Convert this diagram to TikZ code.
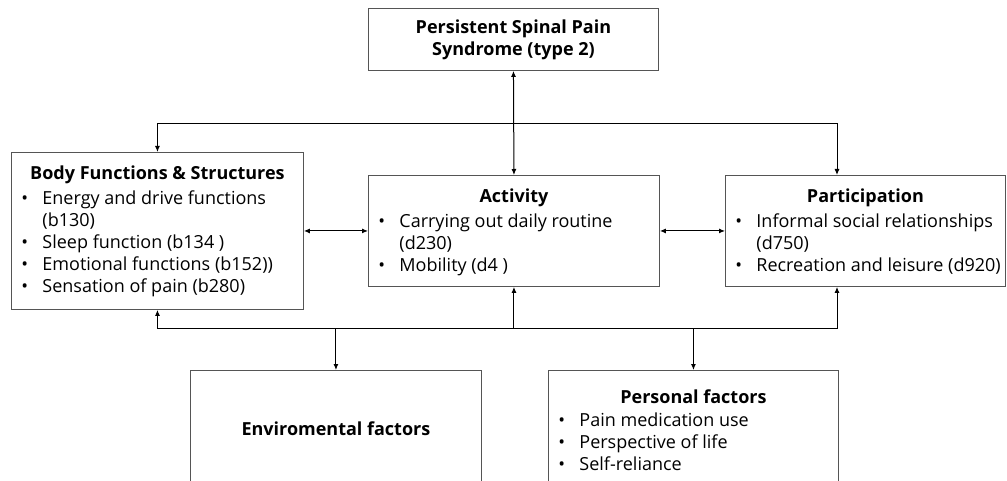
\documentclass[tikz,border=0pt]{standalone}
\usepackage{fontspec}
\setmainfont{Open Sans}
\usetikzlibrary{arrows.meta}
\definecolor{boxline}{RGB}{85,85,85}
\newcommand\bul{\makebox[21pt][l]{\textbullet}}
\newcommand\cont{\hspace*{21pt}}

\begin{document}
\begin{tikzpicture}[x=1pt, y=-1pt,
  icf/.style={draw=boxline, line width=0.9pt, inner sep=0pt, anchor=north west,
    font=\fontsize{18pt}{22pt}\selectfont},
  link/.style={line width=1pt, >={Latex[length=6pt,width=5pt]}}]
\useasboundingbox (0,0) rectangle (1007,481);
\clip (0,0) rectangle (1007,481);
% ICF boxes
\node[icf] (pain) at (368,8) {\parbox[c][62pt][c]{290pt}{\centering\bfseries
  Persistent Spinal Pain\\Syndrome (type 2)}};
\node[icf] (body) at (11,152) {\parbox[c][157pt][t]{292pt}{\vspace*{13pt}%
  \centering\textbf{Body Functions \& Structures}\par\vspace{3pt}\raggedright\leftskip=10pt
  \bul Energy and drive functions\\ \cont(b130)\\
  \bul Sleep function (b134 )\\
  \bul Emotional functions (b152))\\
  \bul Sensation of pain (b280)}};
\node[icf] (act) at (368,175) {\parbox[c][111pt][t]{291pt}{\vspace*{13pt}%
  \centering\textbf{Activity}\par\vspace{3pt}\raggedright\leftskip=10pt
  \bul Carrying out daily routine\\ \cont(d230)\\
  \bul Mobility (d4 )}};
\node[icf] (part) at (725,175) {\parbox[c][111pt][t]{280pt}{\vspace*{13pt}%
  \centering\textbf{Participation}\par\vspace{3pt}\raggedright\leftskip=10pt
  \bul Informal social relationships\\ \cont(d750)\\
  \bul Recreation and leisure (d920)}};
\node[icf] (env) at (190,370) {\parbox[c][116pt][c]{291pt}{\centering\bfseries
  Enviromental factors}};
\node[icf] (pers) at (548,370) {\parbox[c][116pt][t]{290pt}{\vspace*{19pt}%
  \centering\textbf{Personal factors}\par\vspace{1pt}\raggedright\leftskip=10pt
  \bul Pain medication use\\
  \bul Perspective of life\\
  \bul Self-reliance}};
% bars
\coordinate (top bar) at (837,124);
\coordinate (low bar) at (837,328);
% connectors
\draw[link, <->] (pain.south) -- (act.north);
\draw[link, <->] (body.north) |- (top bar) -- (top bar |- part.north);
\draw[link, <->] (body.east) -- (act.west);
\draw[link, <->] (act.east) -- (part.west);
\draw[link, <->] (body.south) |- (low bar) -- (low bar |- part.south);
\draw[link, ->] (act.south |- low bar) -- (act.south);
\draw[link, ->] (env.north |- low bar) -- (env.north);
\draw[link, ->] (pers.north |- low bar) -- (pers.north);
\end{tikzpicture}
\end{document}
